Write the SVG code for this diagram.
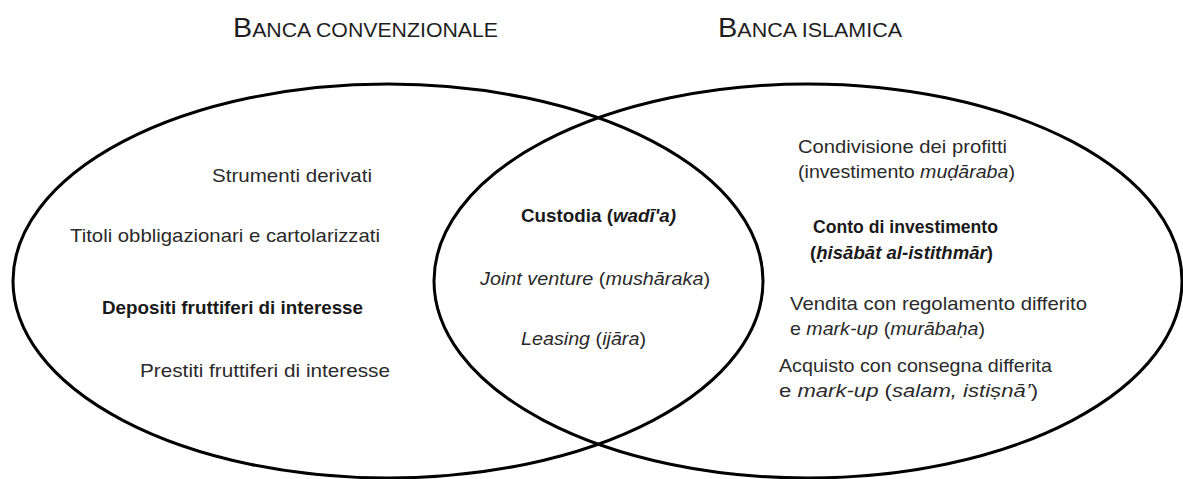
<svg xmlns="http://www.w3.org/2000/svg" width="1183" height="479" viewBox="0 0 1183 479">
<style>
  .set { fill: none; stroke: #000; stroke-width: 3; }
  text { font-family: "Liberation Sans", Arial, sans-serif; font-size: 19px; fill: #2a2a2a; }
  .title { fill: #1e1e1e; font-size: 20px; }
  .big { font-size: 27px; }
  .b { font-weight: bold; fill: #1a1a1a; }
  .i { font-style: italic; }
  .s { font-size: 18px; }
</style>
<rect width="1183" height="479" fill="#fff"/>
<g id="sets">
  <g id="banca-convenzionale">
    <ellipse class="set" cx="388" cy="281" rx="375" ry="197"/>
  </g>
  <g id="banca-islamica">
    <ellipse class="set" cx="808" cy="281" rx="374" ry="197"/>
  </g>
</g>
<g id="titles">
  <text class="title" x="233" y="37" textLength="265" lengthAdjust="spacingAndGlyphs"><tspan class="big">B</tspan>ANCA CONVENZIONALE</text>
  <text class="title" x="718" y="37" textLength="184" lengthAdjust="spacingAndGlyphs"><tspan class="big">B</tspan>ANCA ISLAMICA</text>
</g>
<g id="conventional-items">
  <text x="212" y="182" textLength="160" lengthAdjust="spacingAndGlyphs">Strumenti derivati</text>
  <text x="70" y="242" textLength="310" lengthAdjust="spacingAndGlyphs">Titoli obbligazionari e cartolarizzati</text>
  <text class="b" x="102" y="314" textLength="261" lengthAdjust="spacingAndGlyphs">Depositi fruttiferi di interesse</text>
  <text x="140" y="377" textLength="250" lengthAdjust="spacingAndGlyphs">Prestiti fruttiferi di interesse</text>
</g>
<g id="shared-items">
  <text class="b" x="521" y="222" textLength="155" lengthAdjust="spacingAndGlyphs">Custodia (<tspan class="i">wadī'a)</tspan></text>
  <text x="480" y="285" textLength="230" lengthAdjust="spacingAndGlyphs"><tspan class="i">Joint venture</tspan> (<tspan class="i">mushāraka</tspan>)</text>
  <text x="521" y="345" textLength="125" lengthAdjust="spacingAndGlyphs"><tspan class="i">Leasing</tspan> (<tspan class="i">ijāra</tspan>)</text>
</g>
<g id="islamic-items">
  <text x="798" y="153" textLength="209" lengthAdjust="spacingAndGlyphs">Condivisione dei profitti</text>
  <text x="798" y="178" textLength="217" lengthAdjust="spacingAndGlyphs">(investimento <tspan class="i">muḍāraba</tspan>)</text>
  <text class="b s" x="813" y="233" textLength="185" lengthAdjust="spacingAndGlyphs">Conto di investimento</text>
  <text class="b s" x="810" y="259" textLength="183" lengthAdjust="spacingAndGlyphs">(<tspan class="i">ḥisābāt al-istithmār</tspan>)</text>
  <text x="790" y="310" textLength="297" lengthAdjust="spacingAndGlyphs">Vendita con regolamento differito</text>
  <text x="790" y="335" textLength="195" lengthAdjust="spacingAndGlyphs">e <tspan class="i">mark-up</tspan> (<tspan class="i">murābaḥa</tspan>)</text>
  <text x="779" y="372" textLength="273" lengthAdjust="spacingAndGlyphs">Acquisto con consegna differita</text>
  <text x="779" y="397" textLength="259" lengthAdjust="spacingAndGlyphs">e <tspan class="i">mark-up</tspan> (<tspan class="i">salam, istiṣnā’</tspan>)</text>
</g>
</svg>
